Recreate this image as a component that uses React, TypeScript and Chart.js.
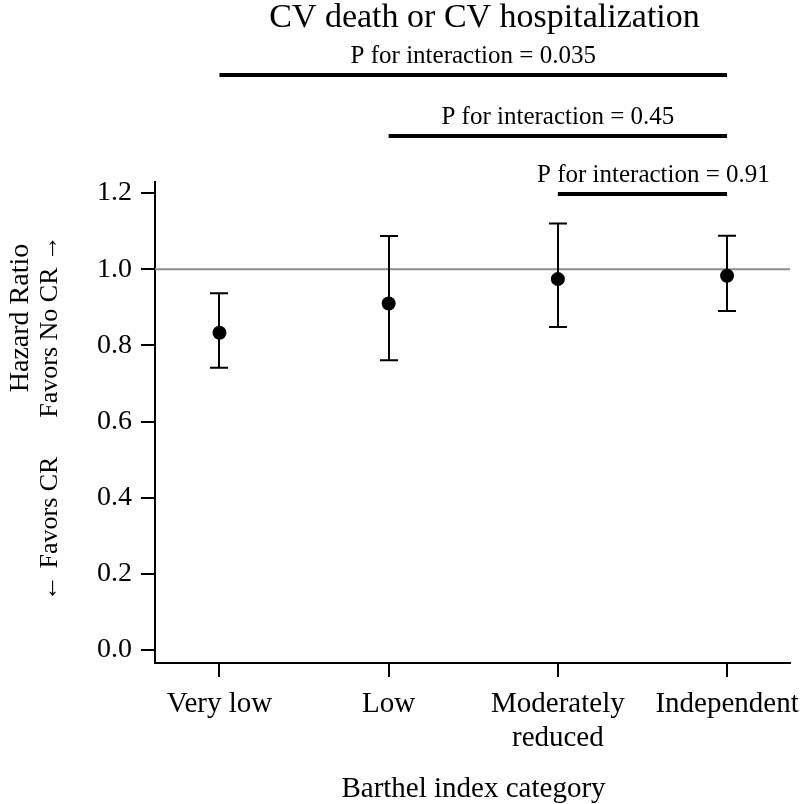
import React, { useEffect, useRef } from 'react';
import { Chart, registerables } from 'chart.js';

Chart.register(...registerables);

// ---- data ----
const categories: string[][] = [['Very low'], ['Low'], ['Moderately', 'reduced'], ['Independent']];
const hazardRatio = [0.833, 0.910, 0.974, 0.983];
const lowerCI = [0.741, 0.761, 0.848, 0.890];
const upperCI = [0.937, 1.087, 1.120, 1.088];
const yTicks = [0.0, 0.2, 0.4, 0.6, 0.8, 1.0, 1.2];
const referenceValue = 1.0;
const interactionLabels = ['P for interaction = 0.035', 'P for interaction = 0.45', 'P for interaction = 0.91'];
const interactionFrom = [0, 1, 2];
const interactionTo = [3, 3, 3];
const chartTitle = 'CV death or CV hospitalization';
const xTitle = 'Barthel index category';
const yTitleTop = 'Hazard Ratio';
const yTitleLow = '← Favors CR';
const yTitleHigh = 'Favors No CR →';

const FONT = '"Liberation Serif", "Times New Roman", serif';

const forestPlugin = {
  id: 'forestExtras',
  beforeDatasetsDraw(chart: any) {
    const { ctx, chartArea, scales } = chart;
    const x = scales.x;
    const y = scales.y;
    ctx.save();
    const yr = y.getPixelForValue(referenceValue);
    ctx.strokeStyle = '#8c8c8c';
    ctx.lineWidth = 2;
    ctx.beginPath();
    ctx.moveTo(chartArea.left, yr);
    ctx.lineTo(chartArea.right, yr);
    ctx.stroke();

    ctx.strokeStyle = '#000';
    ctx.lineWidth = 2;
    const cap = 9;
    hazardRatio.forEach((_, i) => {
      const px = Math.round(x.getPixelForValue(i + 1));
      const lo = y.getPixelForValue(lowerCI[i]);
      const hi = y.getPixelForValue(upperCI[i]);
      ctx.beginPath();
      ctx.moveTo(px, lo);
      ctx.lineTo(px, hi);
      ctx.moveTo(px - cap, lo);
      ctx.lineTo(px + cap, lo);
      ctx.moveTo(px - cap, hi);
      ctx.lineTo(px + cap, hi);
      ctx.stroke();
    });
    ctx.restore();
  },
  afterDraw(chart: any) {
    const { ctx, chartArea, scales } = chart;
    const x = scales.x;
    const cx = (chartArea.left + chartArea.right) / 2;
    ctx.save();
    ctx.fillStyle = '#000';
    ctx.textBaseline = 'alphabetic';

    // title
    ctx.font = `34px ${FONT}`;
    ctx.textAlign = 'center';
    ctx.fillText(chartTitle, cx + 12, 27);

    // interaction brackets
    const lineYs = [75, 136, 194];
    const textShift = [0, 0, 11];
    ctx.font = `25px ${FONT}`;
    ctx.strokeStyle = '#000';
    ctx.lineWidth = 4;
    interactionLabels.forEach((lab, i) => {
      const x1 = x.getPixelForValue(interactionFrom[i] + 1);
      const x2 = x.getPixelForValue(interactionTo[i] + 1);
      const ly = lineYs[i];
      ctx.beginPath();
      ctx.moveTo(x1, ly);
      ctx.lineTo(x2, ly);
      ctx.stroke();
      ctx.fillText(lab, (x1 + x2) / 2 + textShift[i], ly - 12);
    });

    // x title
    ctx.font = `29px ${FONT}`;
    ctx.fillText(xTitle, cx + 1, 797);

    // y title (rotated)
    ctx.save();
    ctx.font = `28px ${FONT}`;
    ctx.translate(28, 318);
    ctx.rotate(-Math.PI / 2);
    ctx.textAlign = 'center';
    ctx.fillText(yTitleTop, 0, 0);
    ctx.restore();

    ctx.save();
    ctx.font = `26px ${FONT}`;
    ctx.translate(57, 0);
    ctx.rotate(-Math.PI / 2);
    ctx.textAlign = 'left';
    ctx.fillText(yTitleLow, -601, 0);
    ctx.textAlign = 'right';
    ctx.fillText(yTitleHigh, -235, 0);
    ctx.restore();

    ctx.restore();
  },
};

export default function App() {
  const ref = useRef<HTMLCanvasElement | null>(null);
  useEffect(() => {
    if (!ref.current) return;
    const chart = new Chart(ref.current, {
      type: 'scatter',
      data: {
        datasets: [
          {
            label: 'Hazard ratio',
            data: hazardRatio.map((v, i) => ({ x: i + 1, y: v })),
            backgroundColor: '#000',
            borderColor: '#000',
            borderWidth: 0,
            pointRadius: 7,
            pointHoverRadius: 7,
          },
        ],
      },
      options: {
        animation: false,
        responsive: false,
        maintainAspectRatio: false,
        devicePixelRatio: 1,
        layout: { padding: { top: 182, right: 10, left: 0, bottom: 0 } },
        plugins: {
          legend: { display: false },
          tooltip: { enabled: false },
          title: { display: false },
        },
        scales: {
          x: {
            type: 'linear',
            min: 0.619,
            max: 4.372,
            afterBuildTicks: (scale: any) => {
              scale.ticks = categories.map((_, i) => ({ value: i + 1 }));
            },
            afterFit: (scale: any) => {
              scale.height = 141;
              scale.paddingLeft = 0;
              scale.paddingRight = 0;
            },
            grid: {
              drawOnChartArea: false,
              drawTicks: true,
              tickLength: 14,
              color: '#000',
              lineWidth: 2,
            },
            border: { display: true, color: '#000', width: 2 },
            ticks: {
              autoSkip: false,
              maxRotation: 0,
              minRotation: 0,
              padding: 11,
              color: '#000',
              font: { family: FONT, size: 29, lineHeight: 1.15 },
              callback: (v: any) => categories[Math.round(Number(v)) - 1] ?? '',
            },
          },
          y: {
            type: 'linear',
            min: -0.034,
            max: 1.229,
            afterBuildTicks: (scale: any) => {
              scale.ticks = yTicks.map((v) => ({ value: v }));
            },
            afterFit: (scale: any) => {
              scale.width = 155;
              scale.paddingTop = 0;
              scale.paddingBottom = 0;
            },
            grid: {
              drawOnChartArea: false,
              drawTicks: true,
              tickLength: 14,
              color: '#000',
              lineWidth: 2,
            },
            border: { display: true, color: '#000', width: 2 },
            ticks: {
              padding: 9,
              color: '#000',
              font: { family: FONT, size: 28 },
              callback: (v: any) => Number(v).toFixed(1),
            },
          },
        },
      },
      plugins: [forestPlugin],
    });
    return () => chart.destroy();
  }, []);

  return (
    <div>
      <canvas
        ref={ref}
        width={800}
        height={804}
        style={{ position: 'fixed', left: 0, top: 0, width: 800, height: 804, display: 'block' }}
      />
    </div>
  );
}
